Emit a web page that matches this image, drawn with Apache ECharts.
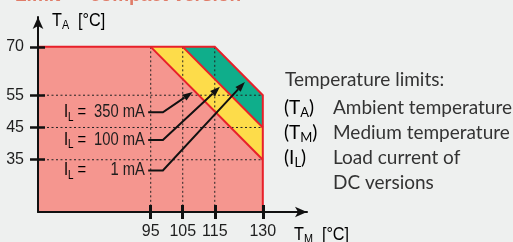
<!DOCTYPE html>
<html><head><meta charset="utf-8">
<script src="https://cdn.jsdelivr.net/npm/echarts@6/dist/echarts.min.js"></script>
<style>html,body{margin:0;padding:0;background:#eef0ef;overflow:hidden}#c{width:513px;height:242px}</style>
</head><body><div id="c"></div>
<script>
// ---- data ----
const ambientTicks = [35, 45, 55, 70];          // T_A tick labels (°C)
const mediumTicks = [95, 105, 115, 130];        // T_M tick labels (°C)
const currentLabels = ['350 mA', '100 mA', '1 mA'];
const deratingStart = [95, 105, 115];           // T_M where T_A limit starts to fall from 70 °C
const ambientAtMediumMax = [35, 45, 55];        // T_A limit at T_M = 130 °C
const ambientMax = 70;
const mediumMax = 130;
const xExtent = [59.8, 143.8];
const yExtent = [18.8, 79.25];

// ---- annotation anchors (data coordinates) ----
const annot = {
  labelLeftX: 67.9, labelRightX: 93.2,
  labelY: [49.7, 41.1, 31.7],
  connectorX: [94.2, 98.8],
  tips: [[108.1, 56.0], [116.6, 57.6], [124.4, 59.1]]
};

const SANS = "'Liberation Sans',Arial,sans-serif";
const LEGFONT = "Lato,'Open Sans',sans-serif";
const INK = '#1e1e1e';
const SQ = 0.82; // horizontal condensing of the narrow sans texts

const bandPolys = [
  [[xExtent[0], yExtent[0]], [xExtent[0], ambientMax], [deratingStart[0], ambientMax],
   [mediumMax, ambientAtMediumMax[0]], [mediumMax, yExtent[0]]]
];
for (let i = 1; i < deratingStart.length; i++) {
  bandPolys.push([[deratingStart[i - 1], ambientMax], [deratingStart[i], ambientMax],
    [mediumMax, ambientAtMediumMax[i]], [mediumMax, ambientAtMediumMax[i - 1]]]);
}
const bandColors = ['#f5968f', '#fddc4a', '#0fae8b'];

const redLines = [
  [[xExtent[0], ambientMax], [deratingStart[2], ambientMax], [mediumMax, ambientAtMediumMax[2]], [mediumMax, yExtent[0]]],
  [[deratingStart[0], ambientMax], [mediumMax, ambientAtMediumMax[0]]],
  [[deratingStart[1], ambientMax], [mediumMax, ambientAtMediumMax[1]]]
];
const dottedLines = [];
deratingStart.forEach(x => dottedLines.push([[x, ambientMax], [x, yExtent[0]]]));
ambientAtMediumMax.forEach(y => dottedLines.push([[xExtent[0], y], [mediumMax, y]]));

const chart = echarts.init(document.getElementById('c'), null, {renderer: 'canvas'});

function axisBase(min, max) { return {type: 'value', min, max, splitLine: {show: false}}; }

const subRich = {
  n: {fontFamily: SANS, fontSize: 18, color: INK, lineHeight: 22},
  s: {fontFamily: SANS, fontSize: 12, color: INK, lineHeight: 12, verticalAlign: 'bottom'}
};
const LEGSIZE = 19;
const legRich = {
  n: {fontFamily: LEGFONT, fontSize: LEGSIZE, color: '#333', lineHeight: 22},
  s: {fontFamily: LEGFONT, fontSize: 13, color: '#333', lineHeight: 12, verticalAlign: 'bottom'}
};
const legStyle = t => ({text: t, fontFamily: LEGFONT, fontSize: LEGSIZE, fill: '#333'});
const titleStyle = t => ({text: t, fontFamily: SANS, fontWeight: 'bold', fontSize: 19, fill: '#e07c68'});

const option = {
  backgroundColor: '#eef0ef',
  animation: false,
  grid: {left: 38, right: 206, top: 17, bottom: 30},
  xAxis: [
    Object.assign(axisBase(xExtent[0], xExtent[1]), {
      z: 10,
      axisLine: {lineStyle: {color: '#111', width: 2}, symbol: ['none', 'arrow'], symbolSize: [8, 12]},
      axisTick: {customValues: mediumTicks, length: 7, lineStyle: {color: '#111', width: 3}},
      axisLabel: {customValues: mediumTicks, margin: 12, fontFamily: SANS, fontSize: 16, color: INK}
    }),
    Object.assign(axisBase(xExtent[0], xExtent[1]), {
      z: 10, position: 'bottom',
      axisLine: {show: false},
      axisTick: {inside: true, customValues: mediumTicks, length: 7, lineStyle: {color: '#111', width: 3}},
      axisLabel: {show: false}
    })
  ],
  yAxis: [
    Object.assign(axisBase(yExtent[0], yExtent[1]), {
      z: 10,
      axisLine: {show: true, lineStyle: {color: '#111', width: 2}, symbol: ['none', 'arrow'], symbolSize: [8, 12]},
      axisTick: {show: true, customValues: ambientTicks, length: 8, lineStyle: {color: '#111', width: 2.5}},
      axisLabel: {customValues: ambientTicks, margin: 14, fontFamily: SANS, fontSize: 16, color: INK}
    }),
    Object.assign(axisBase(yExtent[0], yExtent[1]), {
      z: 10, position: 'left',
      axisLine: {show: false},
      axisTick: {show: true, inside: true, customValues: ambientTicks, length: 7, lineStyle: {color: '#111', width: 2.5}},
      axisLabel: {show: false}
    })
  ],
  graphic: [
    {type: 'text', x: 15, y: -14, style: titleStyle('Limit –')},
    {type: 'text', x: 90, y: -14, style: titleStyle('compact version')},
    {type: 'text', x: 52, y: 10, scaleX: 0.9, style: {text: '{n|T}{s|A}{n|  [°C]}', rich: subRich}},
    {type: 'text', x: 294, y: 224, scaleX: 0.9, style: {text: '{n|T}{s|M}{n|  [°C]}', rich: subRich}},
    {type: 'text', x: 285, y: 70, style: legStyle('Temperature limits:')},
    {type: 'text', x: 284, y: 97, style: {text: '{n|(T}{s|A}{n|)}', rich: legRich}},
    {type: 'text', x: 333, y: 98, style: legStyle('Ambient temperature')},
    {type: 'text', x: 284, y: 122, style: {text: '{n|(T}{s|M}{n|)}', rich: legRich}},
    {type: 'text', x: 333, y: 123, style: legStyle('Medium temperature')},
    {type: 'text', x: 284, y: 147, style: {text: '{n|(I}{s|L}{n|)}', rich: legRich}},
    {type: 'text', x: 333, y: 148, style: legStyle('Load current of')},
    {type: 'text', x: 333, y: 173, style: legStyle('DC versions')}
  ],
  series: [
    {
      type: 'custom', silent: true, z: 2,
      data: bandPolys.map((p, i) => [p[0][0], p[0][1], i]),
      renderItem: (params, api) => ({
        type: 'polygon',
        shape: {points: bandPolys[params.dataIndex].map(p => api.coord(p))},
        style: {fill: bandColors[params.dataIndex], stroke: null}
      })
    },
    {
      type: 'custom', silent: true, z: 3,
      data: dottedLines.map((l, i) => [l[0][0], l[0][1], i]),
      renderItem: (params, api) => ({
        type: 'polyline',
        shape: {points: dottedLines[params.dataIndex].map(p => api.coord(p))},
        style: {stroke: '#222', lineWidth: 1, lineDash: [2, 2.5], fill: null}
      })
    },
    {
      type: 'custom', silent: true, z: 4,
      data: redLines.map((l, i) => [l[0][0], l[0][1], i]),
      renderItem: (params, api) => ({
        type: 'polyline',
        shape: {points: redLines[params.dataIndex].map(p => api.coord(p))},
        style: {stroke: '#e8202a', lineWidth: 2, fill: null, lineJoin: 'miter'}
      })
    },
    {
      type: 'custom', silent: true, z: 5,
      data: currentLabels.map((c, i) => [annot.labelRightX, annot.labelY[i], i]),
      renderItem: (params, api) => {
        const i = params.dataIndex;
        const y = annot.labelY[i];
        const pl = api.coord([annot.labelLeftX, y]);
        const pr = api.coord([annot.labelRightX, y]);
        const c0 = api.coord([annot.connectorX[0], y]);
        const c1 = api.coord([annot.connectorX[1], y]);
        const tip = api.coord(annot.tips[i]);
        const ang = Math.atan2(tip[1] - c1[1], tip[0] - c1[0]);
        const L = 10, W = 3.6;
        const bx = tip[0] - L * Math.cos(ang), by = tip[1] - L * Math.sin(ang);
        const nx = -Math.sin(ang), ny = Math.cos(ang);
        return {
          type: 'group',
          children: [
            {type: 'text', x: pl[0], y: pl[1], scaleX: SQ, style: {text: '{n|I}{s|L}{n| =}', rich: subRich, align: 'left', verticalAlign: 'middle'}},
            {type: 'text', x: pr[0], y: pr[1], scaleX: SQ, style: {text: currentLabels[i], fontFamily: SANS, fontSize: 18, fill: INK, align: 'right', verticalAlign: 'middle'}},
            {type: 'polyline', shape: {points: [c0, c1, [bx, by]]}, style: {stroke: '#111', lineWidth: 2, fill: null}},
            {type: 'polygon', shape: {points: [tip, [bx + nx * W, by + ny * W], [bx - nx * W, by - ny * W]]}, style: {fill: '#111'}}
          ]
        };
      }
    }
  ]
};
chart.setOption(option);
</script>
</body></html>
